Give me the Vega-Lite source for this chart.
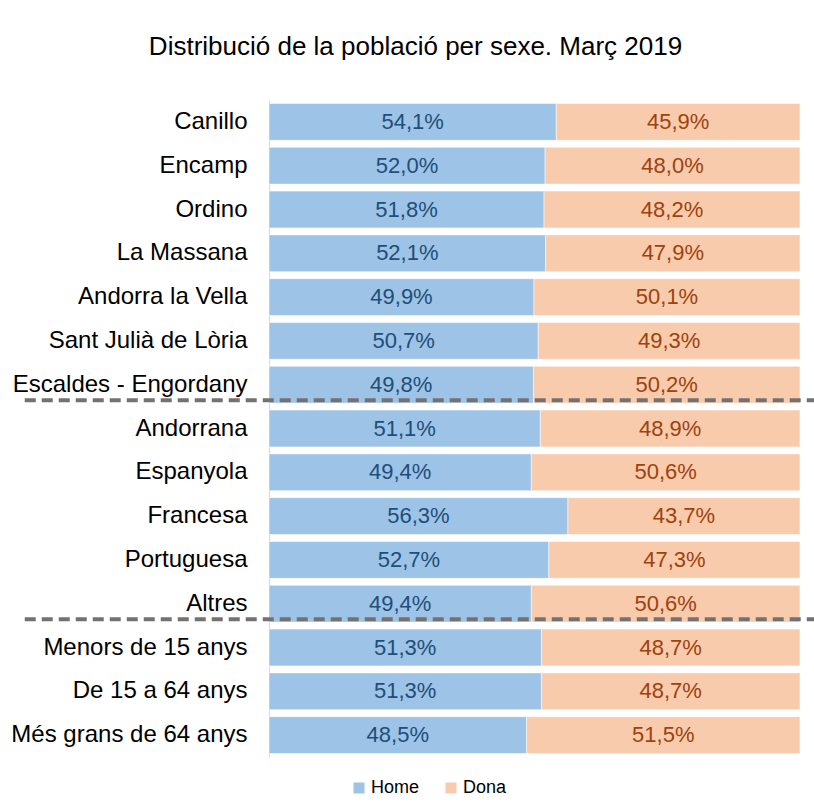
{
  "$schema": "https://vega.github.io/schema/vega-lite/v6.json",
  "width": 531,
  "height": 657,
  "autosize": {"type": "none"},
  "padding": {"left": 269, "top": 100, "right": 14, "bottom": 46},
  "background": "white",
  "config": {
    "view": {"stroke": null},
    "font": "Liberation Sans",
    "locale": {"number": {"decimal": ",", "thousands": ".", "grouping": [3], "currency": ["", " €"]}}
  },
  "title": {
    "text": "Distribució de la població per sexe. Març 2019",
    "fontSize": 26,
    "fontWeight": "normal",
    "color": "#000000",
    "anchor": "middle",
    "dx": -119,
    "offset": 40
  },
  "datasets": {
    "bars": [
      {"categoria": "Canillo", "sexe": "Home", "valor": 0.541},
      {"categoria": "Canillo", "sexe": "Dona", "valor": 0.459},
      {"categoria": "Encamp", "sexe": "Home", "valor": 0.520},
      {"categoria": "Encamp", "sexe": "Dona", "valor": 0.480},
      {"categoria": "Ordino", "sexe": "Home", "valor": 0.518},
      {"categoria": "Ordino", "sexe": "Dona", "valor": 0.482},
      {"categoria": "La Massana", "sexe": "Home", "valor": 0.521},
      {"categoria": "La Massana", "sexe": "Dona", "valor": 0.479},
      {"categoria": "Andorra la Vella", "sexe": "Home", "valor": 0.499},
      {"categoria": "Andorra la Vella", "sexe": "Dona", "valor": 0.501},
      {"categoria": "Sant Julià de Lòria", "sexe": "Home", "valor": 0.507},
      {"categoria": "Sant Julià de Lòria", "sexe": "Dona", "valor": 0.493},
      {"categoria": "Escaldes - Engordany", "sexe": "Home", "valor": 0.498},
      {"categoria": "Escaldes - Engordany", "sexe": "Dona", "valor": 0.502},
      {"categoria": "Andorrana", "sexe": "Home", "valor": 0.511},
      {"categoria": "Andorrana", "sexe": "Dona", "valor": 0.489},
      {"categoria": "Espanyola", "sexe": "Home", "valor": 0.494},
      {"categoria": "Espanyola", "sexe": "Dona", "valor": 0.506},
      {"categoria": "Francesa", "sexe": "Home", "valor": 0.563},
      {"categoria": "Francesa", "sexe": "Dona", "valor": 0.437},
      {"categoria": "Portuguesa", "sexe": "Home", "valor": 0.527},
      {"categoria": "Portuguesa", "sexe": "Dona", "valor": 0.473},
      {"categoria": "Altres", "sexe": "Home", "valor": 0.494},
      {"categoria": "Altres", "sexe": "Dona", "valor": 0.506},
      {"categoria": "Menors de 15 anys", "sexe": "Home", "valor": 0.513},
      {"categoria": "Menors de 15 anys", "sexe": "Dona", "valor": 0.487},
      {"categoria": "De 15 a 64 anys", "sexe": "Home", "valor": 0.513},
      {"categoria": "De 15 a 64 anys", "sexe": "Dona", "valor": 0.487},
      {"categoria": "Més grans de 64 anys", "sexe": "Home", "valor": 0.485},
      {"categoria": "Més grans de 64 anys", "sexe": "Dona", "valor": 0.515}
    ],
    "separadors": [
      {"categoria": "Escaldes - Engordany", "inici": -0.46, "fi": 1.03},
      {"categoria": "Altres", "inici": -0.46, "fi": 1.03}
    ]
  },
  "layer": [
    {
      "data": {"name": "bars"},
      "transform": [
        {"calculate": "datum.sexe === 'Home' ? 0 : 1", "as": "ordre"},
        {"stack": "valor", "groupby": ["categoria"], "sort": [{"field": "ordre"}], "as": ["x0", "x1"]}
      ],
      "mark": {"type": "bar", "stroke": "#ffffff", "strokeOpacity": 0.5, "strokeWidth": 1},
      "encoding": {
        "y": {
          "field": "categoria", "type": "nominal", "sort": null,
          "scale": {"paddingInner": 0.16, "paddingOuter": 0.08},
          "axis": {
            "title": null, "ticks": false, "domainColor": "#d9d9d9", "domainWidth": 1,
            "labelFontSize": 24, "labelColor": "#000000", "labelPadding": 22,
            "labelFont": "Liberation Sans", "labelLimit": 300
          }
        },
        "x": {"field": "x0", "type": "quantitative", "scale": {"domain": [0, 1], "nice": false}, "axis": null},
        "x2": {"field": "x1"},
        "color": {
          "field": "sexe", "type": "nominal",
          "scale": {"domain": ["Home", "Dona"], "range": ["#9dc3e6", "#f8cbad"]},
          "legend": {
            "title": null, "orient": "none", "direction": "horizontal",
            "legendX": 81, "legendY": 679,
            "symbolType": "square", "symbolSize": 121, "symbolStrokeWidth": 0,
            "labelFontSize": 18, "labelColor": "#000000", "labelOffset": 3,
            "columnPadding": 22
          }
        }
      }
    },
    {
      "data": {"name": "bars"},
      "transform": [
        {"calculate": "datum.sexe === 'Home' ? 0 : 1", "as": "ordre"},
        {"stack": "valor", "groupby": ["categoria"], "sort": [{"field": "ordre"}], "as": ["x0", "x1"]},
        {"calculate": "(datum.x0 + datum.x1) / 2", "as": "mig"}
      ],
      "mark": {"type": "text", "fontSize": 22, "baseline": "middle", "align": "center"},
      "encoding": {
        "y": {"field": "categoria", "type": "nominal", "sort": null},
        "x": {"field": "mig", "type": "quantitative"},
        "text": {"field": "valor", "type": "quantitative", "format": ".1%"},
        "color": {
          "field": "sexe", "type": "nominal",
          "scale": {"domain": ["Home", "Dona"], "range": ["#1f4e79", "#9e420e"]},
          "legend": null
        }
      }
    },
    {
      "data": {"name": "separadors"},
      "mark": {"type": "rule", "stroke": "#767171", "strokeWidth": 4, "strokeDash": [11, 6], "clip": false},
      "encoding": {
        "y": {"field": "categoria", "type": "nominal", "sort": null, "bandPosition": 0.92},
        "x": {"field": "inici", "type": "quantitative"},
        "x2": {"field": "fi"}
      }
    }
  ],
  "resolve": {"scale": {"color": "independent"}}
}
